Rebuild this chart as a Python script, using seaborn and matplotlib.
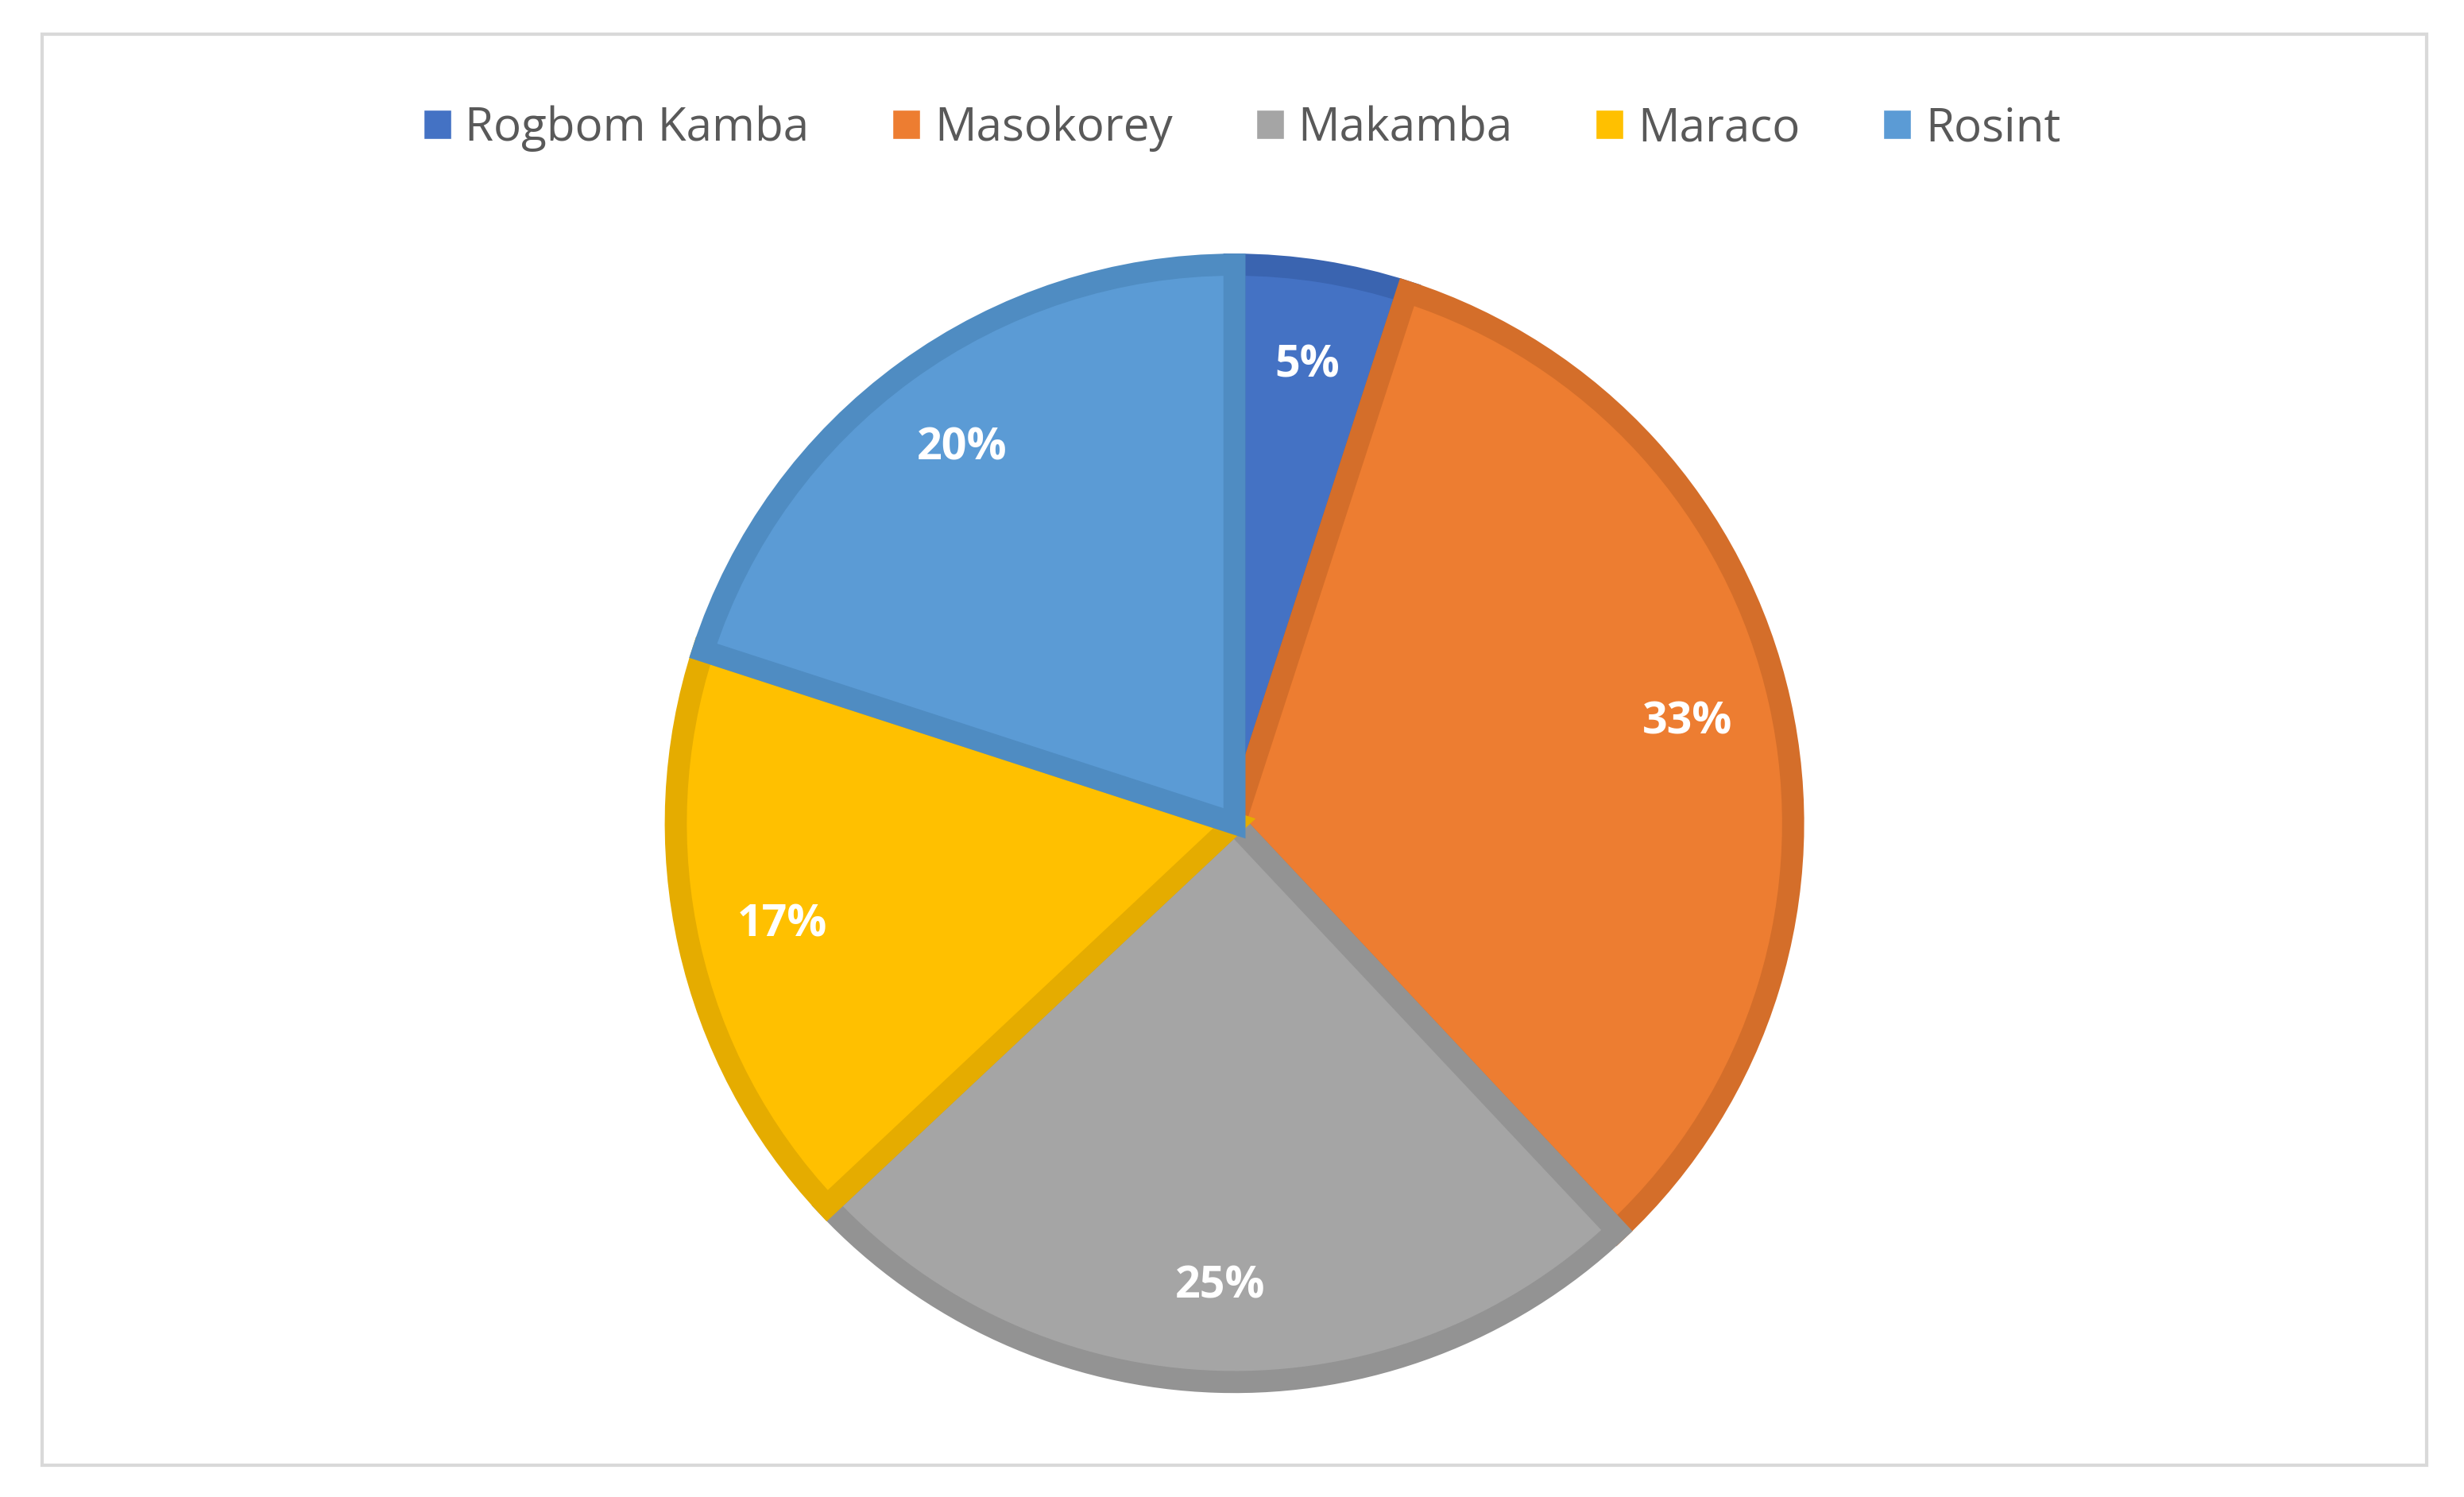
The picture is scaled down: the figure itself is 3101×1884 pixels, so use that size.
import matplotlib
matplotlib.use("Agg")
import matplotlib.pyplot as plt
import seaborn as sns
from matplotlib.patches import Rectangle

sns.set_theme(style="white")
plt.rcParams['font.family'] = ['Open Sans', 'DejaVu Sans']

categories = ["Rogbom Kamba", "Masokorey", "Makamba", "Maraco", "Rosint"]
values = [5, 33, 25, 17, 20]
fill_colors = ["#4472C4", "#ED7D31", "#A5A5A5", "#FFC000", "#5B9BD5"]
edge_colors = ["#3A64B0", "#D46E2A", "#939393", "#E5AC00", "#4F8CC2"]

fig = plt.figure(figsize=(31.01, 18.84), dpi=100)
fig.patch.set_facecolor("white")
fig.add_artist(Rectangle((0.017, 0.021), 0.968, 0.956, transform=fig.transFigure,
                         fill=False, edgecolor="#D9D9D9", linewidth=3))

ax = fig.add_axes([0.272, 0.073, 0.458, 0.754])
wedges, texts, autotexts = ax.pie(values, colors=fill_colors, startangle=90, counterclock=False,
                                  autopct=lambda p: f"{p:.0f}%", pctdistance=0.83,
                                  wedgeprops=dict(linewidth=20, joinstyle="miter"),
                                  textprops=dict(color="white", fontsize=40, fontweight="bold"))
for w, ec in zip(wedges, edge_colors):
    w.set_edgecolor(ec)
ax.set_xlim(-1.01, 1.01)
ax.set_ylim(-1.01, 1.01)
ax.set_aspect("equal")

handles = [Rectangle((0, 0), 1, 1, facecolor=c) for c in fill_colors]
fig.legend(handles, categories, loc="center", bbox_to_anchor=(0.504, 0.914), ncol=5,
           frameon=False, fontsize=42, labelcolor="#595959", handlelength=0.6, handleheight=0.6,
           columnspacing=1.8, handletextpad=0.3)

fig.savefig("out.png", dpi=100)
